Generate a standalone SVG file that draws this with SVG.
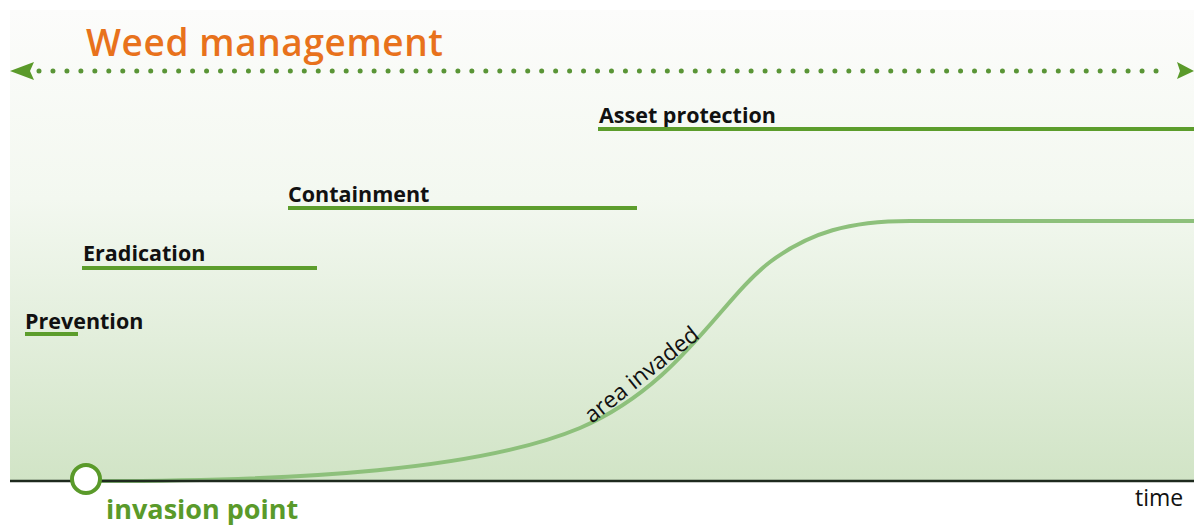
<svg xmlns="http://www.w3.org/2000/svg" width="1194" height="527" viewBox="0 0 1194 527">
  <defs>
    <linearGradient id="field" x1="0" y1="0" x2="0" y2="1">
      <stop offset="0" stop-color="#fcfcfb"/>
      <stop offset="0.4" stop-color="#f3f8f0"/>
      <stop offset="1" stop-color="#d1e4c6"/>
    </linearGradient>
  </defs>
  <style>
    .label { font-family: "Open Sans", "Liberation Sans", sans-serif; font-weight: 700; font-size: 21.5px; fill: #111; }
    .bar { stroke: #5c9d2c; stroke-width: 4; fill: none; }
    .title { font-family: "Open Sans", "Liberation Sans", sans-serif; font-weight: 600; font-size: 37px; letter-spacing: 0.6px; fill: #e8721c; }
    .plain { font-family: "Open Sans", "Liberation Sans", sans-serif; font-size: 23px; fill: #111; }
  </style>

  <!-- background panel -->
  <rect x="0" y="0" width="1194" height="527" fill="#ffffff"/>
  <rect x="10" y="10" width="1184" height="471" fill="url(#field)"/>

  <!-- title -->
  <text class="title" x="86" y="56">Weed management</text>

  <!-- management span arrow -->
  <g id="span-arrow">
    <line x1="39" y1="71" x2="1170" y2="71" stroke="#5a9536" stroke-width="5" stroke-linecap="round" stroke-dasharray="0 13.963"/>
    <path d="M10,71 L34,62 L30,71 L34,80 Z" fill="#5a9a2a"/>
    <path d="M1194,71 L1177,62 L1180,71 L1177,79 Z" fill="#5a9a2a"/>
  </g>

  <!-- area invaded curve -->
  <g id="connectors">
    <path id="curve" d="M100,481 C300,481 480,470 580,428 C680,385 720,300 770,262 C810,232 850,221 910,221 L1194,221" fill="none" stroke="#8dc07b" stroke-width="4"/>
  </g>
  <text class="plain" font-size="24.5" transform="translate(592,424) rotate(-38.5)">area invaded</text>

  <!-- management phases -->
  <g id="asset-protection">
    <text class="label" x="599" y="123">Asset protection</text>
    <line class="bar" x1="598" y1="129" x2="1194" y2="129"/>
  </g>
  <g id="containment">
    <text class="label" x="288" y="202">Containment</text>
    <line class="bar" x1="288" y1="208" x2="637" y2="208"/>
  </g>
  <g id="eradication">
    <text class="label" x="83" y="261">Eradication</text>
    <line class="bar" x1="82" y1="268" x2="317" y2="268"/>
  </g>
  <g id="prevention">
    <text class="label" x="25" y="329">Prevention</text>
    <line class="bar" x1="25" y1="334" x2="78" y2="334"/>
  </g>

  <!-- time axis -->
  <g id="axis">
    <line x1="10" y1="481" x2="1194" y2="481" stroke="#1e2a1e" stroke-width="2.5"/>
    <text class="plain" x="1135" y="506">time</text>
  </g>

  <!-- invasion point -->
  <g id="invasion-point">
    <circle cx="86" cy="479" r="14" fill="#ffffff" stroke="#5a9a2a" stroke-width="4"/>
    <text x="106" y="519" font-family="Open Sans, Liberation Sans, sans-serif" font-weight="700" font-size="27" fill="#5a9a2a">invasion point</text>
  </g>
</svg>
